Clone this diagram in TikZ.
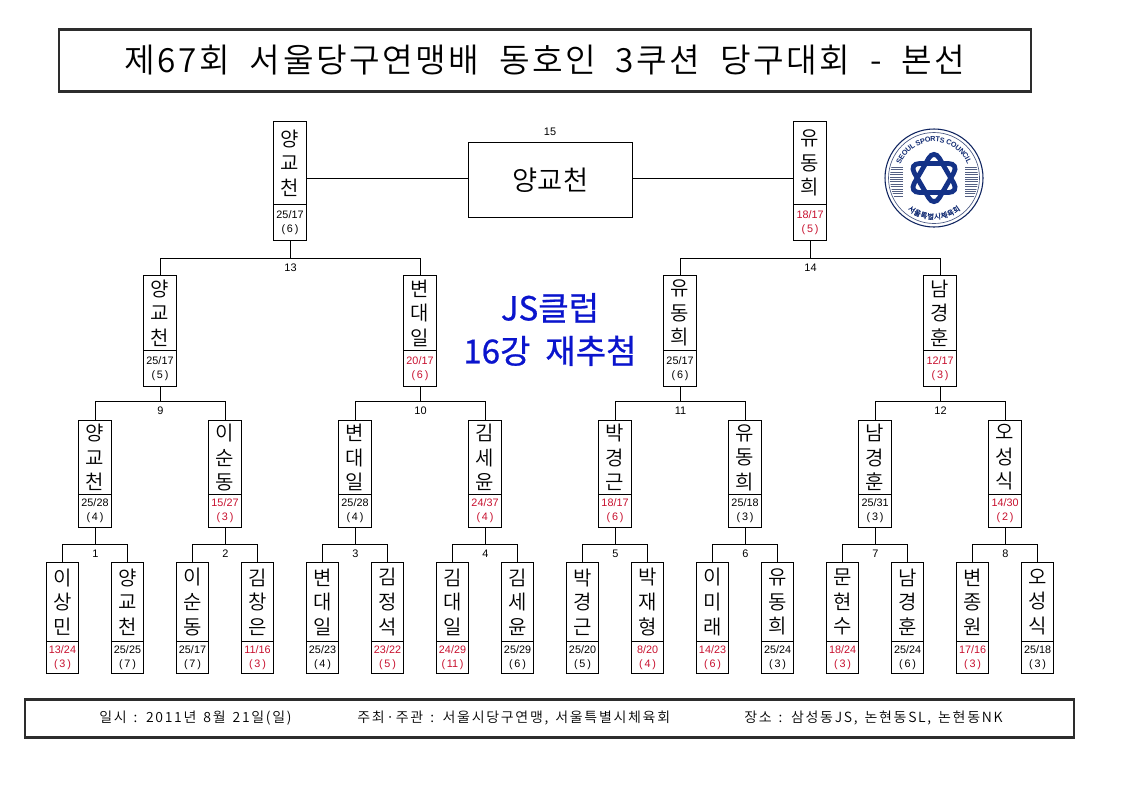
\documentclass[tikz,border=0pt]{standalone}
\usepackage{fontspec}
\setmainfont{Noto Sans CJK KR DemiLight}
\newfontfamily\widef[LetterSpace=12]{Noto Sans CJK KR DemiLight}
\newfontfamily\titlef[LetterSpace=7.4]{Noto Sans CJK KR DemiLight}
\newfontfamily\headf[FakeBold=0.7]{Noto Sans CJK KR}
\newfontfamily\latinf{Liberation Sans}
\usetikzlibrary{decorations.text}
\definecolor{losered}{RGB}{200,16,46}
\definecolor{titleblue}{RGB}{10,20,205}
\definecolor{logoblue}{RGB}{20,50,135}
\definecolor{framegray}{RGB}{45,45,45}
\newcommand{\footfont}{\widef\fontsize{10.5}{12}\selectfont\spaceskip 0.5em\relax}
\tikzset{
  namebox/.style={draw=black,line width=0.75pt,outer sep=0pt,minimum width=#1,inner sep=0pt,anchor=north,align=center,font=\fontsize{15}{18.4}\selectfont},
  scorebox/.style={draw=black,line width=0.75pt,outer sep=0pt,minimum width=#1,inner sep=0pt,anchor=north,align=center,font=\latinf\fontsize{8.1}{10.5}\selectfont},
  wire/.style={draw=black,line width=0.75pt},
  roundno/.style={font=\latinf\fontsize{8.2}{9}\selectfont,inner sep=0pt},
  footertext/.style={font=\footfont,inner sep=0pt},
}
\newcommand{\rs}[2]{#1\\(\,#2\,)}
\newcommand{\cand}[9]{%
  \node[namebox=#6*0.75pt,minimum height=(#4-#3)*0.75pt] (n#1) at (#2,#3) {#7};
  \node[scorebox=#6*0.75pt,minimum height=(#5-#4)*0.75pt,text=#9] (s#1) at (#2,#4) {#8};
}
\def\endoff{0pt}
\newcommand{\bracket}[5]{% left, right, parent box, y, number
  \coordinate (j#5) at ([xshift=0.375pt]#3.south |- 0,#4);
  \draw[wire] ([xshift=\endoff]#1.north) |- (j#5) -| ([xshift=\endoff]#2.north);
  \draw[wire] ([xshift=0.375pt]#3.south) -- (j#5);
  \node[roundno,below=3.6pt] (r#5) at (j#5) {#5};
}
\newcommand{\Yg}{양\\교\\천}
\newcommand{\Yd}{유\\동\\희}
\newcommand{\Bd}{변\\대\\일}
\newcommand{\Ng}{남\\경\\훈}
\newcommand{\Ki}{김\\세\\윤}
\newcommand{\Is}{이\\순\\동}
\newcommand{\Pk}{박\\경\\근}
\newcommand{\Os}{오\\성\\식}
\begin{document}
\begin{tikzpicture}[x=0.75pt,y=-0.75pt]
\useasboundingbox (0,0) rectangle (1123,794);
\fill[white] (0,0) rectangle (1123,794);
% title
\node[draw=framegray,line width=2.1pt,outer sep=0pt,minimum width=972*0.75pt,minimum height=61.6*0.75pt,inner sep=0pt,font=\titlef\fontsize{25}{28}\selectfont] (title) at (545,60.5) {제67회\ \ 서울당구연맹배\ \ 동호인\ \ 3쿠션\ \ 당구대회\ \ -\ \ 본선};
% footer
\node[draw=framegray,line width=2.1pt,outer sep=0pt,minimum width=1049*0.75pt,minimum height=37.7*0.75pt,inner sep=0pt] (footer) at (549.5,718.6) {};
\node[footertext,anchor=west] (f1) at (99,718) {일시 : 2011년 8월 21일(일)};
\node[footertext,anchor=west] (f2) at (357,718) {주최·주관 : 서울시당구연맹, 서울특별시체육회};
\node[footertext,anchor=west] (f3) at (744,718) {장소 : 삼성동JS, 논현동SL, 논현동NK};
\begin{scope}[shift={(0,0.5)}]
% round 1
\cand{a1}{62.5}{562}{641}{673}{32}{이\\상\\민}{\rs{13/24}{3}}{losered}
\cand{a2}{127.5}{562}{641}{673}{32}{\Yg}{\rs{25/25}{7}}{black}
\cand{a3}{192.5}{562}{641}{673}{32}{\Is}{\rs{25/17}{7}}{black}
\cand{a4}{257.5}{562}{641}{673}{32}{김\\창\\은}{\rs{11/16}{3}}{losered}
\cand{a5}{322.5}{562}{641}{673}{32}{\Bd}{\rs{25/23}{4}}{black}
\cand{a6}{387.5}{562}{641}{673}{32}{김\\정\\석}{\rs{23/22}{5}}{losered}
\cand{a7}{452.5}{562}{641}{673}{32}{김\\대\\일}{\rs{24/29}{11}}{losered}
\cand{a8}{517.5}{562}{641}{673}{32}{\Ki}{\rs{25/29}{6}}{black}
\cand{a9}{582.5}{562}{641}{673}{32}{\Pk}{\rs{25/20}{5}}{black}
\cand{a10}{647.5}{562}{641}{673}{32}{박\\재\\형}{\rs{8/20}{4}}{losered}
\cand{a11}{712.5}{562}{641}{673}{32}{이\\미\\래}{\rs{14/23}{6}}{losered}
\cand{a12}{777.5}{562}{641}{673}{32}{\Yd}{\rs{25/24}{3}}{black}
\cand{a13}{842.5}{562}{641}{673}{32}{문\\현\\수}{\rs{18/24}{3}}{losered}
\cand{a14}{907.5}{562}{641}{673}{32}{\Ng}{\rs{25/24}{6}}{black}
\cand{a15}{972.5}{562}{641}{673}{32}{변\\종\\원}{\rs{17/16}{3}}{losered}
\cand{a16}{1037.5}{562}{641}{673}{32}{\Os}{\rs{25/18}{3}}{black}
% round 2
\cand{b1}{95}{420}{494}{527}{33}{\Yg}{\rs{25/28}{4}}{black}
\cand{b2}{225}{420}{494}{527}{33}{\Is}{\rs{15/27}{3}}{losered}
\cand{b3}{355}{420}{494}{527}{33}{\Bd}{\rs{25/28}{4}}{black}
\cand{b4}{485}{420}{494}{527}{33}{\Ki}{\rs{24/37}{4}}{losered}
\cand{b5}{615}{420}{494}{527}{33}{\Pk}{\rs{18/17}{6}}{losered}
\cand{b6}{745}{420}{494}{527}{33}{\Yd}{\rs{25/18}{3}}{black}
\cand{b7}{875}{420}{494}{527}{33}{\Ng}{\rs{25/31}{3}}{black}
\cand{b8}{1005}{420}{494}{527}{33}{\Os}{\rs{14/30}{2}}{losered}
% round 3
\cand{c1}{160}{275}{350}{386}{33}{\Yg}{\rs{25/17}{5}}{black}
\cand{c2}{420}{275}{350}{386}{33}{\Bd}{\rs{20/17}{6}}{losered}
\cand{c3}{680}{275}{350}{386}{33}{\Yd}{\rs{25/17}{6}}{black}
\cand{c4}{940}{275}{350}{386}{33}{\Ng}{\rs{12/17}{3}}{losered}
% round 4
\cand{d1}{290}{121}{204}{240}{33}{\Yg}{\rs{25/17}{6}}{black}
\cand{d2}{810}{121}{204}{240}{33}{\Yd}{\rs{18/17}{5}}{losered}
% final
\node[draw=black,line width=0.75pt,outer sep=0pt,minimum width=164*0.75pt,minimum height=75*0.75pt,inner sep=0pt,font=\fontsize{20.5}{24}\selectfont] (champ) at (550.5,179.5) {양교천};
\node[roundno] (r15) at (550,131) {15};
\coordinate (cl) at (champ.west |- 0,178);
\coordinate (cr) at (champ.east |- 0,178);
\draw[wire] (cl -| nd1.east) -- (cl);
\draw[wire] (cr) -- (cr -| nd2.west);
% brackets
\bracket{na1}{na2}{sb1}{544}{1}
\bracket{na3}{na4}{sb2}{544}{2}
\bracket{na5}{na6}{sb3}{544}{3}
\bracket{na7}{na8}{sb4}{544}{4}
\bracket{na9}{na10}{sb5}{544}{5}
\bracket{na11}{na12}{sb6}{544}{6}
\bracket{na13}{na14}{sb7}{544}{7}
\bracket{na15}{na16}{sb8}{544}{8}
\def\endoff{0.375pt}
\bracket{nb1}{nb2}{sc1}{401}{9}
\bracket{nb3}{nb4}{sc2}{401}{10}
\bracket{nb5}{nb6}{sc3}{401}{11}
\bracket{nb7}{nb8}{sc4}{401}{12}
\bracket{nc1}{nc2}{sd1}{258}{13}
\bracket{nc3}{nc4}{sd2}{258}{14}
\end{scope}
% blue heading
\node[text=titleblue,font=\headf\fontsize{24.8}{32.2}\selectfont,align=center,inner sep=0pt] (heading) at (550,329.5) {JS클럽\\16강\ \ 재추첨};
% logo
\begin{scope}[shift={(934,178)},x=0.75pt,y=0.75pt]
\draw[logoblue!70!black,line width=0.8pt] (0,0) circle (49);
\draw[logoblue!50!gray,line width=0.5pt] (0,0) circle (45.5);
\foreach \r in {0,60}{
  \draw[logoblue,line width=3.6pt,rounded corners=8pt,rotate=\r] (90:29) -- (210:29) -- (330:29) -- cycle;
}
\begin{scope}
\clip (0,0) circle (44);
\foreach \yy in {-18,-15.6,...,12}{
  \draw[logoblue!40!gray,line width=0.45pt] (31,\yy) -- (46,\yy);
  \draw[logoblue!40!gray,line width=0.45pt] (-31,\yy) -- (-46,\yy);
}
\end{scope}
\path[postaction={decorate},decoration={text along path,text align=center,raise=-1.8pt,text={|\latinf\bfseries\fontsize{5.4}{6}\selectfont\color{logoblue!85!black}|SEOUL SPORTS COUNCIL}}] (155:38.5) arc[start angle=155,end angle=25,radius=38.5];
\path[postaction={decorate},decoration={text along path,text align=center,raise=-1.8pt,text={|\headf\fontsize{5.6}{6}\selectfont\color{logoblue!85!black}|서울특별시체육회}}] (220:39) arc[start angle=220,end angle=320,radius=39];
\end{scope}
\end{tikzpicture}
\end{document}
